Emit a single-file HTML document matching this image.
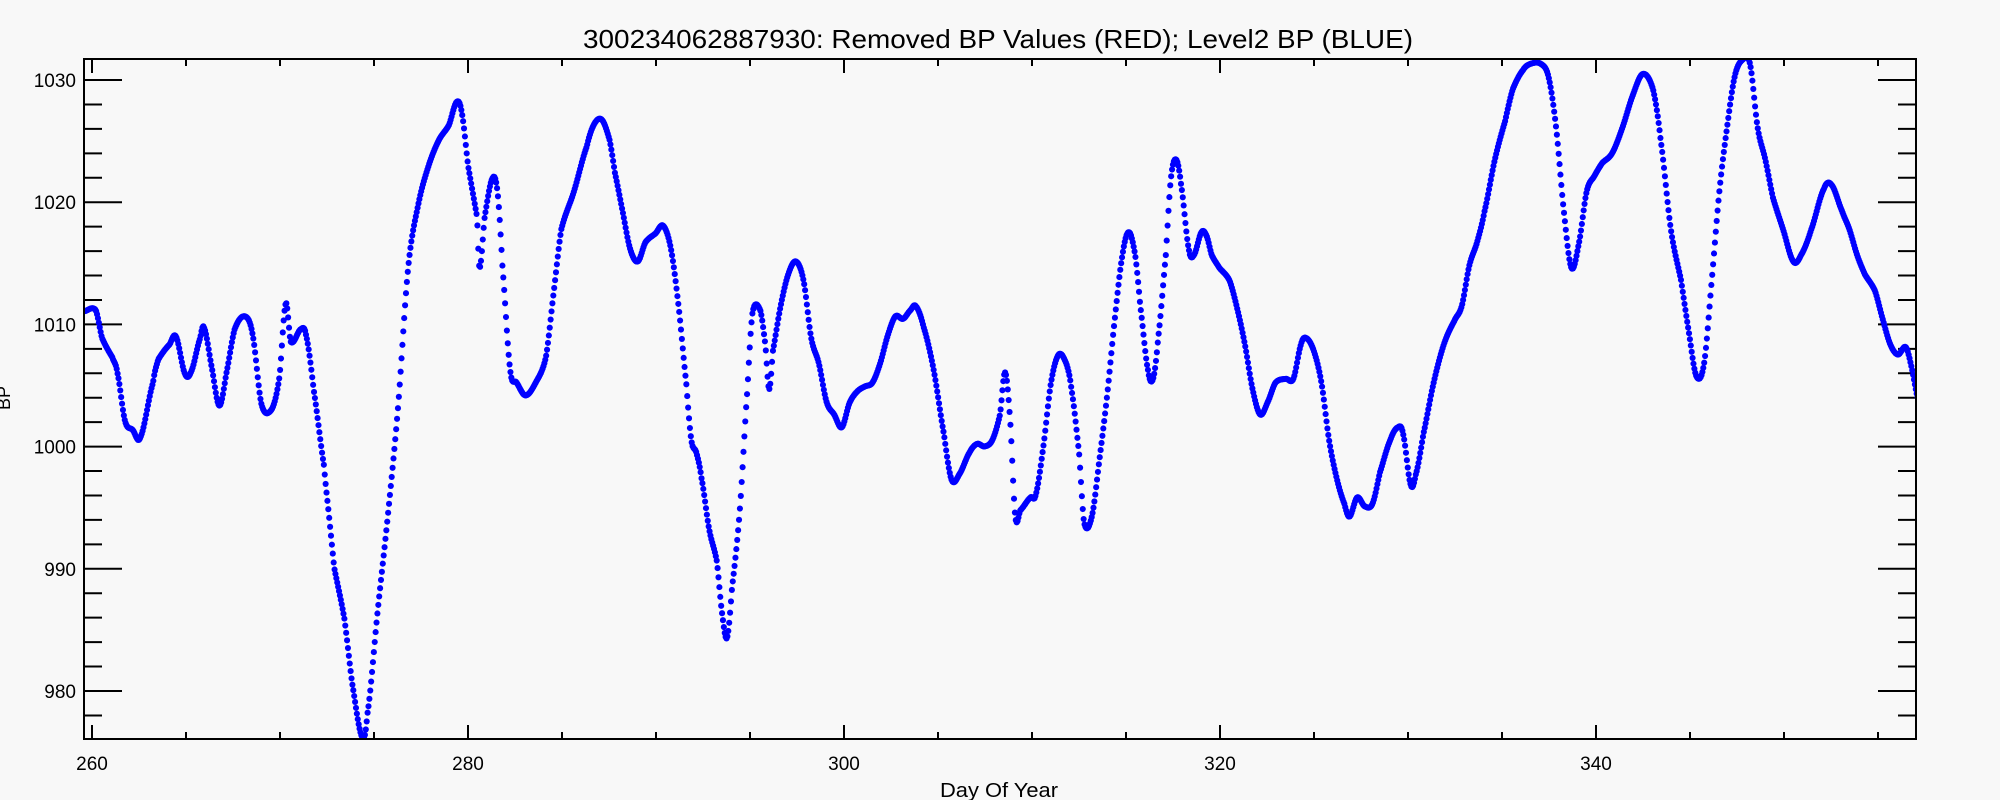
<!DOCTYPE html>
<html><head><meta charset="utf-8"><style>
html,body{margin:0;padding:0;background:#f8f8f8;}
svg{display:block;}
text{font-family:"Liberation Sans",sans-serif;fill:#000;}
</style></head><body>
<svg id="s" width="2000" height="800" viewBox="0 0 2000 800" xmlns="http://www.w3.org/2000/svg">
<rect width="2000" height="800" fill="#f8f8f8"/>
<defs><clipPath id="c"><rect x="84" y="59" width="1832" height="680"/></clipPath></defs>
<text x="583" y="48" font-size="26" textLength="830" lengthAdjust="spacingAndGlyphs">300234062887930: Removed BP Values (RED); Level2 BP (BLUE)</text>
<text x="940" y="797" font-size="20" textLength="118" lengthAdjust="spacingAndGlyphs">Day Of Year</text>
<text transform="translate(10,410) rotate(-90)" font-size="18">BP</text>
<g id="ax" stroke="#000" stroke-width="2" fill="none"></g>
<g id="lab" font-size="19"></g>
<g clip-path="url(#c)"><g id="d" fill="#0000ff" transform="scale(1.2755)"></g></g>
<rect x="84" y="59" width="1832" height="680" fill="none" stroke="#000" stroke-width="2"/>
</svg>
<script>
var NS="http://www.w3.org/2000/svg";
function el(p,t,a,txt){var e=document.createElementNS(NS,t);for(var k in a)e.setAttribute(k,a[k]);if(txt!==undefined)e.textContent=txt;p.appendChild(e);return e;}
var ax=document.getElementById('ax'),lab=document.getElementById('lab');
var L=84,R=1916,T=59,B=739;
function X(d){return 92+(d-260)*18.8;}
function Y(v){return 80+(1030-v)*12.22;}
for(var d=260;d<=357;d+=5){var x=X(d);if(x<L||x>R)continue;var big=(d%20==0);var h=big?14:7;
 el(ax,'line',{x1:x,y1:B,x2:x,y2:B-h});el(ax,'line',{x1:x,y1:T,x2:x,y2:T+h});
 if(big)el(lab,'text',{x:x,y:770,'text-anchor':'middle'},String(d));}
for(var v=976;v<=1031;v+=2){var y=Y(v);if(y<T||y>B)continue;var big=(v%10==0);var w=big?38:18;
 el(ax,'line',{x1:L,y1:y,x2:L+w,y2:y});el(ax,'line',{x1:R,y1:y,x2:R-w,y2:y});
 if(big)el(lab,'text',{x:76,y:y+7,'text-anchor':'end'},String(v));}
var P=[[60,244],[66,244],[75,243],[80,265],[88,280],[92,292],[98,330],[104,337],[110,343],[120,300],[124,282],[133,270],[138,264],[145,293],[150,291],[157,265],[160,257],[166,288],[172,318],[178,290],[184,258],[192,248],[198,262],[205,317],[213,321],[219,296],[224,238],[228,268],[236,258],[240,263],[246,306],[254,365],[258,405],[262,445],[270,485],[276,535],[284,578],[288,560],[296,480],[304,405],[312,320],[320,210],[328,160],[336,130],[344,110],[352,98],[358,80],[362,88],[367,130],[374,170],[376,210],[380,170],[386,140],[390,150],[394,210],[400,290],[405,300],[412,310],[420,300],[428,280],[434,230],[440,180],[450,150],[460,115],[466,97],[472,94],[478,110],[482,135],[488,165],[494,195],[500,205],[506,190],[514,183],[520,177],[526,195],[532,240],[538,300],[542,345],[546,355],[550,375],[556,415],[562,440],[566,480],[570,500],[574,460],[580,400],[586,305],[590,245],[596,243],[600,270],[603,305],[606,275],[612,240],[618,215],[624,205],[630,220],[636,265],[642,285],[648,315],[654,325],[660,335],[666,316],[672,307],[678,303],[684,300],[690,285],[696,263],[702,248],[708,250],[714,243],[718,240],[724,256],[732,290],[740,340],[746,376],[752,372],[760,355],[766,348],[772,350],[778,345],[784,325],[788,292],[792,330],[796,405],[800,400],[808,390],[812,388],[818,350],[824,300],[830,278],[836,285],[840,305],[846,355],[850,410],[856,405],[862,360],[868,310],[874,250],[880,200],[885,182],[890,200],[894,240],[900,290],[904,297],[908,265],[914,200],[918,140],[922,125],[926,145],[932,195],[936,200],[942,182],[946,185],[950,200],[956,210],[964,220],[970,242],[976,270],[982,305],[988,325],[994,315],[1000,300],[1008,297],[1014,297],[1020,270],[1024,265],[1030,275],[1036,300],[1042,345],[1048,375],[1054,395],[1058,405],[1064,390],[1070,397],[1076,395],[1082,370],[1090,345],[1096,335],[1100,340],[1106,380],[1110,372],[1116,340],[1124,300],[1132,270],[1140,252],[1146,240],[1152,208],[1158,190],[1164,165],[1172,125],[1180,95],[1186,70],[1194,55],[1200,50],[1208,50],[1214,60],[1220,100],[1226,165],[1232,210],[1238,190],[1244,150],[1250,138],[1256,128],[1264,120],[1272,100],[1280,75],[1288,58],[1296,70],[1302,110],[1310,180],[1318,220],[1324,260],[1330,295],[1336,285],[1342,220],[1348,150],[1354,100],[1360,60],[1366,47],[1372,50],[1378,100],[1384,125],[1390,155],[1398,180],[1406,205],[1412,200],[1420,180],[1430,148],[1436,145],[1444,165],[1450,180],[1456,200],[1462,215],[1470,228],[1476,250],[1482,270],[1488,278],[1494,272],[1498,285],[1503,310],[1510,330]];
var g=document.getElementById('d');
var step=0.7,i=0,n=P.length;
for(var x=60;x<=1510;x+=step){
 while(i<n-2&&P[i+1][0]<x)i++;
 var a=P[i],b=P[i+1],t=(x-a[0])/(b[0]-a[0]);if(t<0)t=0;if(t>1)t=1;
 var p0=P[Math.max(0,i-1)][1],p1=a[1],p2=b[1],p3=P[Math.min(n-1,i+2)][1];
 var t2=t*t,t3=t2*t;
 var y=0.5*((2*p1)+(-p0+p2)*t+(2*p0-5*p1+4*p2-p3)*t2+(-p0+3*p1-3*p2+p3)*t3);
 el(g,'circle',{cx:x.toFixed(2),cy:y.toFixed(2),r:2.4});
}
</script>
</body></html>
